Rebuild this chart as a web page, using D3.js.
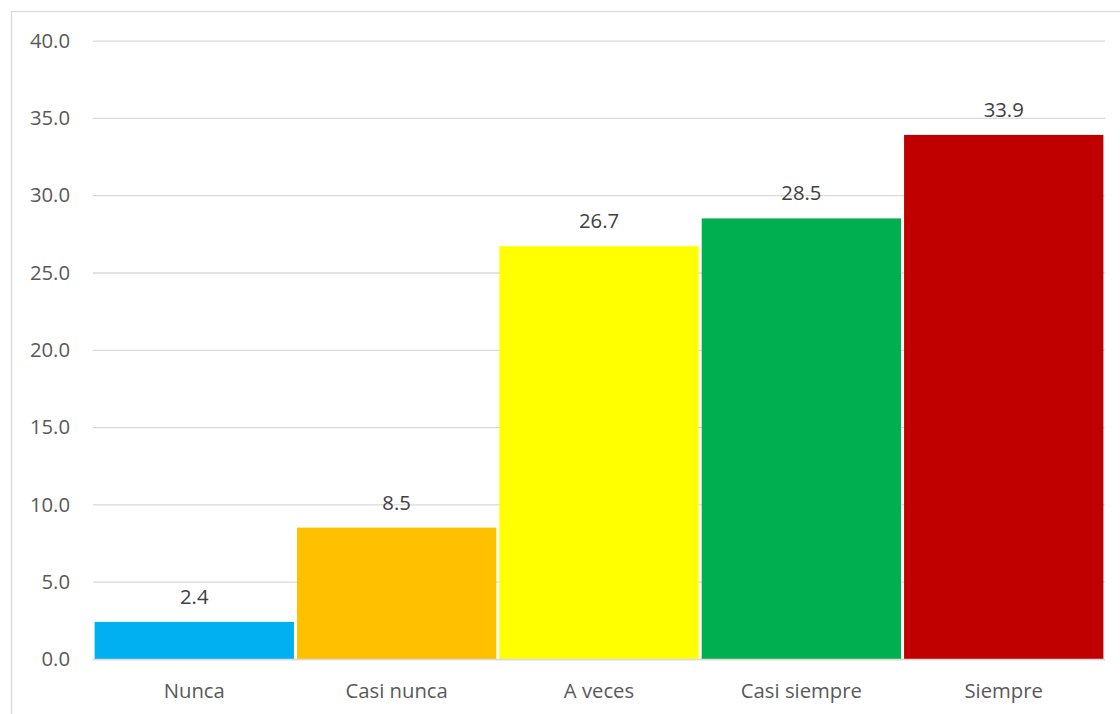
<!DOCTYPE html>
<html>
<head>
<meta charset="utf-8">
<script src="https://cdn.jsdelivr.net/npm/d3@7"></script>
<style>
  html, body { margin: 0; padding: 0; background: #fff; }
  svg { display: block; font-family: "Open Sans", "Noto Sans", sans-serif; }
</style>
</head>
<body>
<svg id="chart" width="1120" height="714"></svg>
<script>
const categories = ["Nunca", "Casi nunca", "A veces", "Casi siempre", "Siempre"];
const values = [2.4, 8.5, 26.7, 28.5, 33.9];
const barColors = ["#00b0f0", "#ffc000", "#ffff00", "#00b050", "#c00000"];
const yTicks = [0, 5, 10, 15, 20, 25, 30, 35, 40];

const svg = d3.select("#chart");
const W = 1120, H = 714;
const margin = { left: 93, right: 15, top: 40.6, bottom: 55 };
const fontSize = 20.3;

// chart frame
svg.append("rect")
  .attr("x", 11.5).attr("y", 11.5)
  .attr("width", W).attr("height", H)
  .attr("fill", "none").attr("stroke", "#d9d9d9").attr("stroke-width", 1.2);

const x = d3.scaleBand()
  .domain(categories)
  .range([margin.left, W - margin.right])
  .paddingInner(0.015)
  .paddingOuter(0.008);

const y = d3.scaleLinear()
  .domain([0, 40])
  .range([H - margin.bottom, margin.top]);

// gridlines
svg.append("g")
  .selectAll("line")
  .data(yTicks)
  .join("line")
  .attr("x1", margin.left).attr("x2", W - margin.right)
  .attr("y1", d => y(d) + 0.5).attr("y2", d => y(d) + 0.5)
  .attr("stroke", "#d9d9d9").attr("stroke-width", 1.3);

// y tick labels
svg.append("g")
  .selectAll("text")
  .data(yTicks)
  .join("text")
  .attr("x", 70)
  .attr("y", d => y(d))
  .attr("dy", "0.35em")
  .attr("text-anchor", "end")
  .attr("font-size", fontSize)
  .attr("fill", "#595959")
  .text(d => d3.format(".1f")(d));

// bars
svg.append("g")
  .selectAll("rect")
  .data(values)
  .join("rect")
  .attr("x", (d, i) => x(categories[i]))
  .attr("width", x.bandwidth())
  .attr("y", d => y(d))
  .attr("height", d => y(0) - y(d))
  .attr("fill", (d, i) => barColors[i]);

// baseline
svg.append("line")
  .attr("x1", margin.left).attr("x2", W - margin.right)
  .attr("y1", y(0) + 0.5).attr("y2", y(0) + 0.5)
  .attr("stroke", "#d9d9d9").attr("stroke-width", 1.3);

// value labels
svg.append("g")
  .selectAll("text")
  .data(values)
  .join("text")
  .attr("x", (d, i) => x(categories[i]) + x.bandwidth() / 2)
  .attr("y", d => y(d) - 18)
  .attr("text-anchor", "middle")
  .attr("font-size", fontSize)
  .attr("fill", "#404040")
  .text(d => d3.format(".1f")(d));

// category labels
svg.append("g")
  .selectAll("text")
  .data(categories)
  .join("text")
  .attr("x", d => x(d) + x.bandwidth() / 2)
  .attr("y", 698)
  .attr("text-anchor", "middle")
  .attr("font-size", fontSize)
  .attr("fill", "#595959")
  .text(d => d);
</script>
</body>
</html>
